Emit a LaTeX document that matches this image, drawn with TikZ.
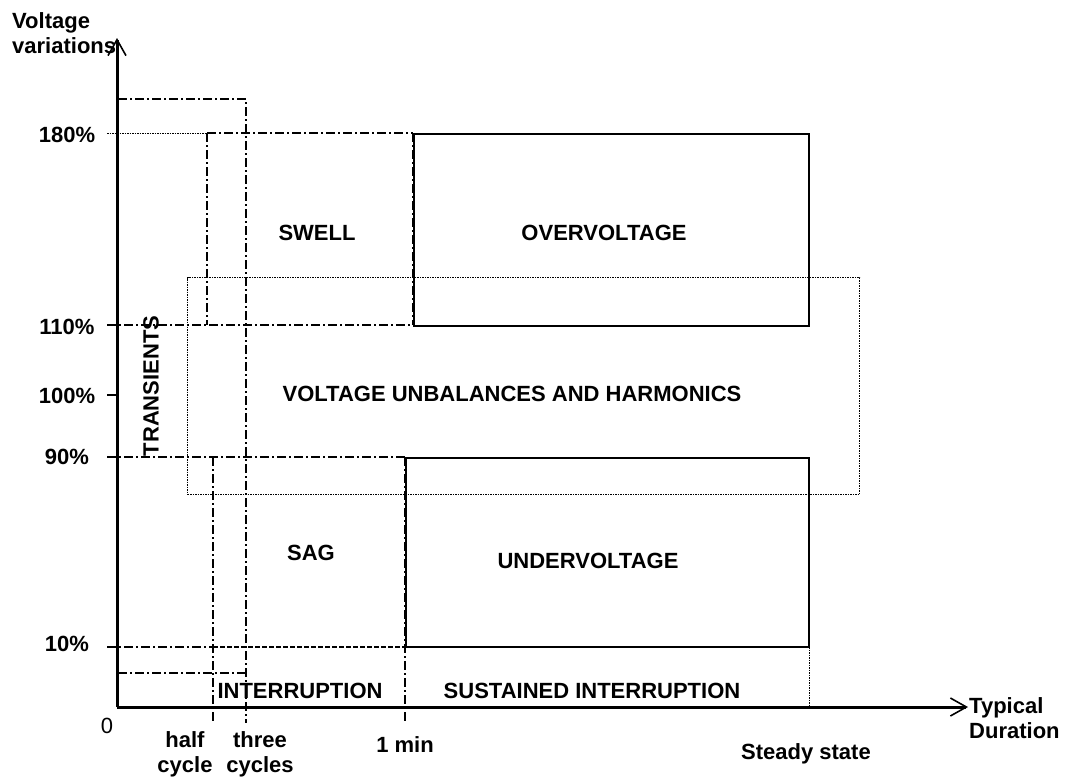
\documentclass[tikz,border=0pt]{standalone}
\usepackage{fontspec}
\setmainfont{Liberation Sans}
\usetikzlibrary{arrows.meta}
\begin{document}
\begin{tikzpicture}[x=1pt,y=-1pt,
  lbl/.style={font=\fontsize{22}{25}\selectfont\bfseries, inner sep=0pt},
  plain/.style={font=\fontsize{22}{25}\selectfont, inner sep=0pt},
  dashdot/.style={line width=1.3pt, dash pattern=on 9pt off 3pt on 2pt off 3pt},
  dots/.style={line width=1pt, dash pattern=on 1.5pt off 1pt},
  fdash/.style={line width=1.2pt, dash pattern=on 5pt off 2pt},
  solidbox/.style={line width=2pt},
  axis/.style={line width=3pt, -{Straight Barb[length=16pt,width=18pt,line width=1.6pt]}}]
\useasboundingbox (0,0) rectangle (1067,780);

% axes
\coordinate (O) at (117,707);
\coordinate (ytip) at (117,38);
\coordinate (xtip) at (968,707);

% transients box
\coordinate (tr1) at (118,99);
\coordinate (tr2) at (246,99);
\coordinate (tr3) at (246,723);
\coordinate (tr4) at (118,673);
\coordinate (tr5) at (246,673);
\draw[dashdot] (tr1) -- (tr2) -- (tr3);
\draw[dots] (tr1) -- (tr4);
\draw[dashdot] (tr4) -- (tr5);

% swell region
\coordinate (s180a) at (107,133);
\coordinate (s180b) at (207,133);
\coordinate (s180c) at (413,133);
\coordinate (s110a) at (107,325);
\coordinate (s110b) at (207,325);
\coordinate (s110c) at (413,325);
\draw[dots] (s180a) -- (s180b);
\draw[dashdot] (s180b) -- (s180c);
\draw[dashdot] (s180b) -- (s110b);
\draw[dashdot] (s110a) -- (s110c);
\draw[dashdot] (s180c) -- (s110c);

% 100% tick
\coordinate (t100a) at (107,395);
\coordinate (t100b) at (117,395);
\draw[dashdot] (t100a) -- (t100b);

% overvoltage
\node[solidbox, draw, minimum width=395pt, minimum height=192pt, anchor=north west, inner sep=0pt] (ov) at (413,133) {};

% unbalances
\node[dots, draw, minimum width=672pt, minimum height=217pt, anchor=north west, inner sep=0pt] (vu) at (187,277) {};

% sag region
\coordinate (s90a) at (107,457);
\coordinate (s90b) at (213,457);
\coordinate (s90c) at (405,457);
\coordinate (s10a) at (107,647);
\coordinate (s10b) at (213,647);
\coordinate (s10c) at (405,647);
\coordinate (hcb) at (213,723);
\coordinate (mnb) at (405,723);
\draw[dashdot] (s90a) -- (s90c);
\draw[dashdot] (s90b) -- (hcb);
\draw[dashdot] (s90c) -- (mnb);
\draw[dashdot] (s10a) -- (s10b);
\draw[fdash] (s10b) -- (s10c);
\coordinate (ib1) at (213,707);
\coordinate (ib2) at (405,707);
\draw[fdash, line width=0.8pt] (ib1) -- (ib2);

% undervoltage
\node[solidbox, draw, minimum width=403pt, minimum height=189pt, anchor=north west, inner sep=0pt] (uv) at (405,457) {};

% steady state
\coordinate (ss1) at (809,647);
\coordinate (ss2) at (809,707);
\draw[dots] (ss1) -- (ss2);

% axes on top
\draw[axis] (O) -- (ytip);
\draw[axis] (O) -- (xtip);

% labels
\node[lbl] (l180) at (67,135) {180\%};
\node[lbl] (l110) at (67,327) {110\%};
\node[lbl] (l100) at (67,396) {100\%};
\node[lbl] (l90) at (67,457) {90\%};
\node[lbl] (l10) at (67,644) {10\%};
\node[plain, anchor=base] (l0) at (107,733) {0};

\node[lbl, align=left, anchor=north west] (yl) at (12,12) {Voltage\\variations};
\node[lbl, align=left, anchor=north west] (xl) at (969,697) {Typical\\Duration};

\node[lbl, align=center, anchor=base] (hc) at (185,772) {half\\cycle};
\node[lbl, align=center, anchor=base] (tc) at (260,772) {three\\cycles};
\node[lbl, anchor=base] (mn) at (405,752) {1 min};
\node[lbl, anchor=base] (st) at (806,759) {Steady state};

\node[lbl] (swell) at (317,233) {SWELL};
\node[lbl] (over) at (604,233) {OVERVOLTAGE};
\node[lbl] (vub) at (512,394) {VOLTAGE UNBALANCES AND HARMONICS};
\node[lbl] (sag) at (311,553) {SAG};
\node[lbl] (under) at (588,561) {UNDERVOLTAGE};
\node[lbl] (intr) at (300,691) {INTERRUPTION};
\node[lbl] (sint) at (592,691) {SUSTAINED INTERRUPTION};
\node[lbl, rotate=90] (trans) at (151,386) {TRANSIENTS};
\end{tikzpicture}
\end{document}
